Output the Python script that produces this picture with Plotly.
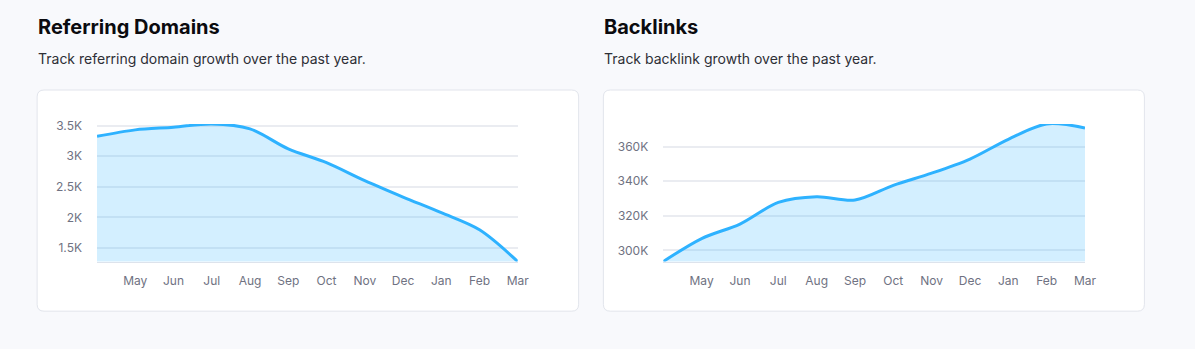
import plotly.graph_objects as go

W, H = 1195, 349

months = ["Apr", "May", "Jun", "Jul", "Aug", "Sep", "Oct", "Nov", "Dec", "Jan", "Feb", "Mar"]
referring_domains = [3324, 3430, 3473, 3527, 3447, 3120, 2896, 2602, 2334, 2078, 1799, 1281]
backlinks = [293500, 306800, 315200, 327700, 331000, 329100, 337600, 344600, 352800, 364200, 373100, 370800]

rd_tickvals = [1500, 2000, 2500, 3000, 3500]
rd_ticktext = ["1.5K", "2K", "2.5K", "3K", "3.5K"]
bl_tickvals = [300000, 320000, 340000, 360000]
bl_ticktext = ["300K", "320K", "340K", "360K"]

titles = ["Referring Domains", "Backlinks"]
subtitles = ["Track referring domain growth over the past year.",
             "Track backlink growth over the past year."]

LINE = "#2eb2ff"
FILL = "rgba(46,178,255,0.21)"
GRID = "#eaecf1"
TICK = "#6f7282"
FONT = "Inter"

def px(x):
    return x / W

def py(y):
    return 1 - y / H

fig = go.Figure()

for i, vals in enumerate([referring_domains, backlinks]):
    fig.add_trace(go.Scatter(
        x=months, y=vals, mode="lines",
        line=dict(color=LINE, width=3, shape="spline", smoothing=0.9),
        fill="tozeroy", fillcolor=FILL,
        xaxis="x" if i == 0 else "x2", yaxis="y" if i == 0 else "y2",
        hoverinfo="skip", showlegend=False,
    ))

plot_top, plot_bot = 120, 260
x_domains = [(98, 523), (670, 1096)]

axis_common = dict(
    showgrid=False, zeroline=False, showline=True, linecolor="#dde3ec", linewidth=1,
    tickfont=dict(family=FONT, size=12, color=TICK), ticks="", ticklabelstandoff=8,
    tickvals=months[1:], ticktext=months[1:], range=[0, 11], fixedrange=True,
)
yaxis_common = dict(
    showgrid=True, gridcolor=GRID, gridwidth=1.5, zeroline=False, showline=False,
    tickfont=dict(family=FONT, size=12, color=TICK), ticks="", ticklabelstandoff=14,
    fixedrange=True,
)

fig.update_layout(
    width=W, height=H, autosize=False,
    margin=dict(l=0, r=0, t=0, b=0),
    paper_bgcolor="#f8f9fc", plot_bgcolor="white",
    xaxis=dict(domain=[px(x_domains[0][0]), px(x_domains[0][1])], anchor="y", **axis_common),
    xaxis2=dict(domain=[px(x_domains[1][0]), px(x_domains[1][1])], anchor="y2", **axis_common),
    yaxis=dict(domain=[py(plot_bot), py(plot_top)], anchor="x",
               range=[min(referring_domains), max(referring_domains)],
               tickvals=rd_tickvals, ticktext=rd_ticktext, **yaxis_common),
    yaxis2=dict(domain=[py(plot_bot), py(plot_top)], anchor="x2",
                range=[min(backlinks), max(backlinks)],
                tickvals=bl_tickvals, ticktext=bl_ticktext, **yaxis_common),
)

# cards
def card_path(x0, y0, x1, y1, r=7):
    rx, ry = r / W, r / H
    X0, X1 = px(x0), px(x1)
    Y0, Y1 = py(y1), py(y0)  # bottom, top in paper
    return (f"M {X0+rx},{Y1} L {X1-rx},{Y1} Q {X1},{Y1} {X1},{Y1-ry} "
            f"L {X1},{Y0+ry} Q {X1},{Y0} {X1-rx},{Y0} L {X0+rx},{Y0} "
            f"Q {X0},{Y0} {X0},{Y0+ry} L {X0},{Y1-ry} Q {X0},{Y1} {X0+rx},{Y1} Z")

cards = [(37.5, 85.5, 584.5, 310.5), (609.5, 85.5, 1156, 310.5)]
for c in cards:
    fig.add_shape(type="path", path=card_path(*c), xref="paper", yref="paper",
                  fillcolor="white", line=dict(color="#e2e5ec", width=1), layer="below")

title_x = [36, 608]
for i in range(2):
    fig.add_annotation(text=f"<b>{titles[i]}</b>", x=px(title_x[i]), y=py(21),
                       xref="paper", yref="paper", xanchor="left", yanchor="middle",
                       showarrow=False, font=dict(family=FONT, size=20, color="#0b0b0f"))
    fig.add_annotation(text=subtitles[i], x=px(title_x[i]), y=py(53),
                       xref="paper", yref="paper", xanchor="left", yanchor="middle",
                       showarrow=False, font=dict(family=FONT, size=14, color="#2e2f36"))

fig.write_html("out.html", config={"displayModeBar": False})
